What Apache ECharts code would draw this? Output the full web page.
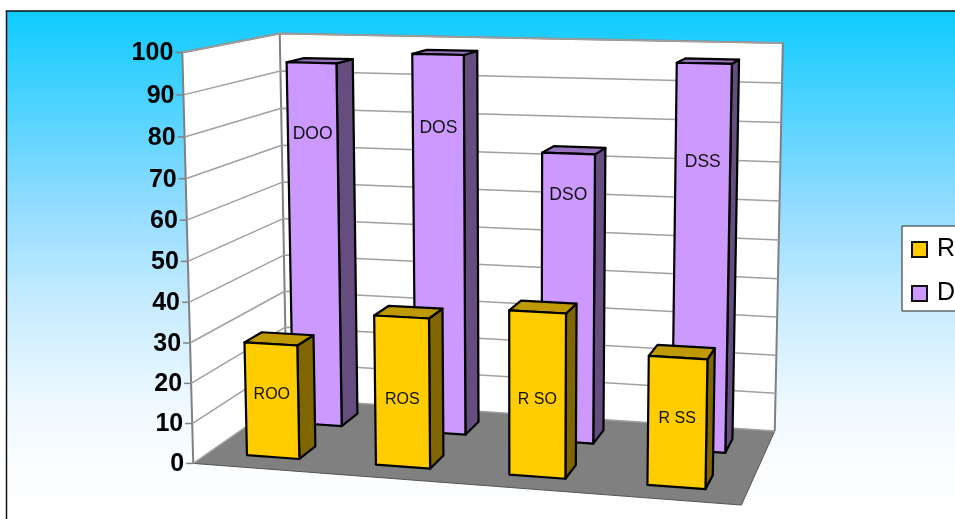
<!DOCTYPE html>
<html>
<head>
<meta charset="utf-8">
<style>html,body{margin:0;padding:0;background:#fff;overflow:hidden}#chart{width:955px;height:519px}</style>
<script src="https://cdn.jsdelivr.net/npm/echarts@6/dist/echarts.min.js"></script>
</head>
<body>
<div id="chart"></div>
<script>
// Data
const categories = ['OO', 'OS', 'SO', 'SS'];
const rValues = [28.5, 37, 40, 31];
const dValues = [94.5, 97.3, 73.5, 96.5];
const rLabels = ['ROO', 'ROS', 'R SO', 'R SS'];
const dLabels = ['DOO', 'DOS', 'DSO', 'DSS'];
const tickValues = [0, 10, 20, 30, 40, 50, 60, 70, 80, 90, 100];
const tickLabels = ['0', '10', '20', '30', '40', '50', '60', '70', '80', '90', '100'];

// Height on each bar, in axis units, at which its caption sits
const rLabelLevels = [15.8, 16.8, 18.8, 16.4];
const dLabelLevels = [76.2, 78.7, 63.2, 72.4];

// Box shape per series: depth band (0 = front of floor, 1 = back wall),
// width share of a slot and sideways offset inside a slot
const rShape = { depth: [0.155, 0.335], share: 0.41, nudge: 0.004 };
const dShape = { depth: [0.64, 0.84], share: 0.40, nudge: 0.015 };

// Screen positions of the box corners that define the perspective: [u, t, z, x, y]
const frameAnchors = [
  [0, 0, 0, 193, 464], [0, 1, 0, 183, 52],
  [0, 0, 1, 287, 398], [0, 1, 1, 279, 34],
  [1, 0, 1, 775, 431], [1, 1, 1, 783, 43],
  [1, 0, 0, 741, 505]
];

// Least-squares fit of the projective camera through the anchors
function solveCamera(anchors) {
  const A = [], b = [];
  anchors.forEach(([u, t, z, x, y]) => {
    const X = x / 100, Y = y / 100;
    A.push([u, t, z, 1, 0, 0, 0, 0, -X * u, -X * t, -X * z]); b.push(X);
    A.push([0, 0, 0, 0, u, t, z, 1, -Y * u, -Y * t, -Y * z]); b.push(Y);
  });
  const n = 11;
  const M = [];
  for (let i = 0; i < n; i++) {
    M.push(new Array(n + 1).fill(0));
    for (let j = 0; j < n; j++) A.forEach(row => { M[i][j] += row[i] * row[j]; });
    A.forEach((row, k) => { M[i][n] += row[i] * b[k]; });
  }
  for (let c = 0; c < n; c++) {
    let p = c;
    for (let r = c + 1; r < n; r++) if (Math.abs(M[r][c]) > Math.abs(M[p][c])) p = r;
    [M[c], M[p]] = [M[p], M[c]];
    for (let r = 0; r < n; r++) {
      if (r === c) continue;
      const f = M[r][c] / M[c][c];
      for (let k = c; k <= n; k++) M[r][k] -= f * M[c][k];
    }
  }
  return M.map((row, i) => row[n] / row[i]);
}
const cam = solveCamera(frameAnchors);
function project(u, t, z) {
  const w = cam[8] * u + cam[9] * t + cam[10] * z + 1;
  return [
    100 * (cam[0] * u + cam[1] * t + cam[2] * z + cam[3]) / w,
    100 * (cam[4] * u + cam[5] * t + cam[6] * z + cam[7]) / w
  ];
}

const GRID_COLOR = '#a0a0a0';
const FRAME_COLOR = '#808080';
const LABEL_FONT = '"Liberation Sans", Arial, sans-serif';

function poly(points, fill, stroke, lineWidth) {
  return {
    type: 'polygon',
    shape: { points },
    style: { fill, stroke, lineWidth: lineWidth || 0, lineJoin: 'round' }
  };
}
function line(points, stroke, lineWidth) {
  return {
    type: 'polyline',
    shape: { points },
    style: { fill: null, stroke, lineWidth, lineJoin: 'round' }
  };
}

// Walls and floor
function renderRoom() {
  const p = project;
  return {
    type: 'group',
    children: [
      poly([p(0, 0, 0), p(0, 1, 0), p(0, 1, 1), p(0, 0, 1)], '#fff'),
      poly([p(0, 0, 1), p(0, 1, 1), p(1, 1, 1), p(1, 0, 1)], '#fff'),
      poly([p(0, 0, 0), p(0, 0, 1), p(1, 0, 1), p(1, 0, 0)], '#808080'),
      line([p(0, 0, 0), p(1, 0, 0), p(1, 0, 1)], '#555', 1),
      line([p(0, 0, 1), p(0, 1, 1)], FRAME_COLOR, 2),
      line([p(0, 0, 0), p(0, 1, 0), p(0, 1, 1), p(1, 1, 1), p(1, 0, 1)], FRAME_COLOR, 2)
    ]
  };
}

// One gridline across both walls, with its tick and axis label
function renderTick(params, api) {
  const cs = params.coordSys;
  const t = (cs.y + cs.height - api.coord([0, api.value(1)])[1]) / cs.height;
  const front = project(0, t, 0), back = project(0, t, 1), right = project(1, t, 1);
  const children = [
    line([front, back, right], GRID_COLOR, 1.5),
    line([[front[0] - 7, front[1]], front], FRAME_COLOR, 1.5),
    {
      type: 'text',
      style: {
        text: tickLabels[params.dataIndex],
        x: front[0] - 9,
        y: front[1] + 1,
        align: 'right',
        verticalAlign: 'middle',
        fill: '#000',
        font: 'bold 25px ' + LABEL_FONT
      }
    }
  ];
  return { type: 'group', children };
}

// A column as a box: side, top and front faces with its caption
function barRenderer(shape, labels, levels, faces, fontSize) {
  return function (params, api) {
    const cs = params.coordSys;
    const [cx, cy] = api.coord([api.value(0), api.value(1)]);
    const band = api.size([1, 0])[0];
    const half = band * shape.share / 2;
    const mid = cx + band * shape.nudge;
    const u0 = (mid - half - cs.x) / cs.width;
    const u1 = (mid + half - cs.x) / cs.width;
    const t = (cs.y + cs.height - cy) / cs.height;
    const [z0, z1] = shape.depth;
    const p = project;
    const stroke = '#000';
    const level = api.coord([0, levels[params.dataIndex]])[1];
    const labelT = (cs.y + cs.height - level) / cs.height;
    const anchor = p((u0 + u1) / 2, labelT, z0);
    return {
      type: 'group',
      children: [
        poly([p(u1, 0, z0), p(u1, t, z0), p(u1, t, z1), p(u1, 0, z1)], faces.side, stroke, 2.2),
        poly([p(u0, t, z0), p(u0, t, z1), p(u1, t, z1), p(u1, t, z0)], faces.top, stroke, 2.2),
        poly([p(u0, 0, z0), p(u0, t, z0), p(u1, t, z0), p(u1, 0, z0)], faces.front, stroke, 2.2),
        {
          type: 'text',
          style: {
            text: labels[params.dataIndex],
            x: anchor[0],
            y: anchor[1],
            align: 'center',
            verticalAlign: 'middle',
            fill: '#111',
            font: fontSize + 'px ' + LABEL_FONT
          }
        }
      ]
    };
  };
}

const rFaces = { front: '#FFCC00', top: '#BF9900', side: '#806600' };
const dFaces = { front: '#CC99FF', top: '#9973BF', side: '#664D80' };

const chart = echarts.init(document.getElementById('chart'), null, { renderer: 'canvas' });
chart.setOption({
  animation: false,
  backgroundColor: '#fff',
  graphic: [{
    type: 'rect',
    z: -10,
    shape: { x: 6.5, y: 11, width: 960, height: 510 },
    style: {
      stroke: '#111',
      lineWidth: 1.5,
      fill: new echarts.graphic.LinearGradient(0, 0, 0, 1, [
        { offset: 0, color: '#0ECBFF' },
        { offset: 0.37, color: '#8EDBFF' },
        { offset: 0.57, color: '#C6EBFF' },
        { offset: 0.77, color: '#EEF9FF' },
        { offset: 0.9, color: '#FBFDFF' },
        { offset: 1, color: '#FFFFFF' }
      ])
    }
  }],
  grid: { left: 100, top: 100, width: 400, height: 200, show: false },
  xAxis: { type: 'category', data: categories, show: false },
  yAxis: { type: 'value', min: 0, max: 100, interval: 10, show: false },
  legend: {
    orient: 'vertical',
    left: 902,
    top: 226,
    padding: [11, 60, 5, 9],
    itemGap: 19,
    itemWidth: 15,
    itemHeight: 15,
    backgroundColor: '#fff',
    borderColor: '#222',
    borderWidth: 1,
    borderRadius: 0,
    textStyle: { fontFamily: LABEL_FONT, fontSize: 25, color: '#000', padding: [0, 0, 0, 5] },
    data: [
      { name: 'R', icon: 'rect', itemStyle: { color: '#FFCC00', borderColor: '#111', borderWidth: 2 } },
      { name: 'D', icon: 'rect', itemStyle: { color: '#CC99FF', borderColor: '#111', borderWidth: 2 } }
    ]
  },
  series: [
    { type: 'custom', z: 1, silent: true, data: [[0, 0]], renderItem: renderRoom },
    { type: 'custom', z: 2, silent: true, data: tickValues.map(v => [0, v]), renderItem: renderTick },
    {
      type: 'custom', name: 'D', z: 3, silent: true, itemStyle: { color: '#CC99FF' },
      data: dValues.map((v, i) => [i, v]),
      renderItem: barRenderer(dShape, dLabels, dLabelLevels, dFaces, 17.5)
    },
    {
      type: 'custom', name: 'R', z: 4, silent: true, itemStyle: { color: '#FFCC00' },
      data: rValues.map((v, i) => [i, v]),
      renderItem: barRenderer(rShape, rLabels, rLabelLevels, rFaces, 16)
    }
  ]
});
</script>
</body>
</html>
